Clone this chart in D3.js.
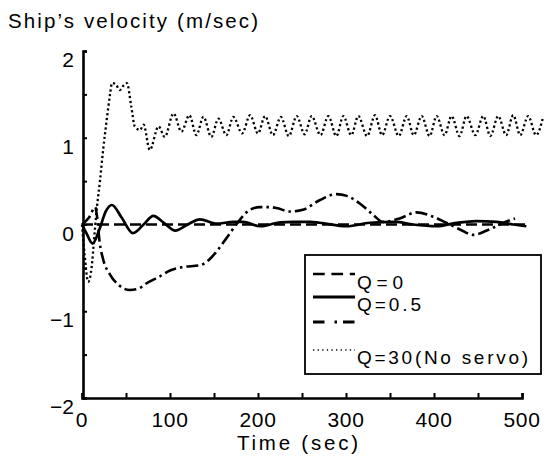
<!DOCTYPE html>
<html><head><meta charset="utf-8">
<script src="https://cdn.jsdelivr.net/npm/d3@7/dist/d3.min.js"></script>
<style>
body{margin:0;background:#fff;}
text{font-family:"Liberation Sans",Arial,sans-serif;fill:#000;}
</style></head>
<body>
<svg id="chart" width="545" height="468"></svg>
<script>
// ---- data ----
const xTickValues = [0, 50, 100, 150, 200, 250, 300, 350, 400, 450, 500];
const xTickLabels = [0, 100, 200, 300, 400, 500];
const yTickValues = [-2, -1.5, -1, -0.5, 0, 0.5, 1, 1.5, 2];
const yTickLabels = [-2, -1, 0, 1, 2];
const legendLabels = ["Q=0", "Q=0.5", "", "Q=30(No servo)"];

const q0Time = [0, 100, 200, 300, 400, 505];
const q0Vel  = [0, 0, 0, 0, 0, 0];

const q05Time = [0, 5, 12, 20, 27, 34, 45, 58, 70, 81, 93, 106, 120, 134, 153, 172, 183, 202, 214, 225, 240, 259, 270, 301, 327, 356, 376, 403, 426, 448, 471, 490, 505];
const q05Vel  = [0, -0.1, -0.22, -0.05, 0.15, 0.225, 0.08, -0.1, 0.0, 0.1, 0.02, -0.07, 0.0, 0.06, 0.01, 0.03, 0.03, -0.02, 0.0, 0.025, 0.03, 0.03, 0.02, -0.02, 0.02, 0.03, 0.0, -0.02, 0.02, 0.04, 0.03, 0.0, -0.02];

const dashDotTime = [0, 8, 15, 17, 20, 24, 32, 42, 54, 64, 73, 88, 100, 115, 134, 145, 153, 164, 176, 191, 202, 214, 221, 236, 251, 270, 289, 301, 316, 331, 342, 361, 380, 399, 414, 430, 445, 460, 479, 492];
const dashDotVel  = [0, 0.08, 0.2, 0.1, -0.2, -0.4, -0.58, -0.7, -0.755, -0.74, -0.68, -0.6, -0.53, -0.49, -0.47, -0.4, -0.31, -0.16, 0.01, 0.17, 0.2, 0.2, 0.19, 0.15, 0.17, 0.28, 0.35, 0.33, 0.24, 0.11, 0.03, 0.07, 0.14, 0.09, 0.02, -0.06, -0.12, -0.07, 0.02, 0.07];

const q30Time = [0, 3, 7, 11, 13, 15, 17, 20.5, 24, 28, 32, 34, 38, 43, 47, 51, 56, 60, 66, 70, 77, 87, 94, 104, 113, 122, 130, 138, 147, 155, 164, 172, 182, 191, 200, 208, 217, 226, 235, 244, 253, 261, 271, 280, 289, 297, 306, 314, 324, 333, 341, 350, 360, 369, 377, 386, 395, 403, 412, 420, 429, 437, 447, 456, 464, 473, 482, 490, 498, 507, 516, 524];
const q30Vel  = [0, -0.35, -0.66, -0.49, -0.26, -0.02, 0.2, 0.51, 0.86, 1.2, 1.51, 1.63, 1.62, 1.55, 1.6, 1.63, 1.36, 1.13, 1.09, 1.15, 0.86, 1.13, 1.01, 1.28, 1.07, 1.26, 1.03, 1.24, 1.01, 1.22, 1.03, 1.24, 1.05, 1.26, 1.05, 1.25, 1.03, 1.24, 1.02, 1.25, 1.04, 1.25, 1.03, 1.25, 1.02, 1.25, 1.03, 1.25, 1.02, 1.26, 1.03, 1.25, 1.02, 1.25, 1.03, 1.25, 1.02, 1.25, 1.03, 1.25, 1.02, 1.25, 1.03, 1.25, 1.02, 1.25, 1.03, 1.26, 1.03, 1.25, 1.03, 1.24];

// ---- chart ----
const svg = d3.select("#chart");
const x = d3.scaleLinear().domain([0, 500]).range([82, 522]);
const y = d3.scaleLinear().domain([-2, 2]).range([398, 51]);

const series = [
  {t: q0Time, v: q0Vel, dash: "11,5", w: 2.6},
  {t: q05Time, v: q05Vel, dash: null, w: 2.7},
  {t: dashDotTime, v: dashDotVel, dash: "12,4,2.5,4", w: 2.6},
  {t: q30Time, v: q30Vel, dash: "2.2,2.6", w: 2.3}
];

const line = d3.line().x(d => x(d[0])).y(d => y(d[1])).curve(d3.curveMonotoneX);

series.forEach(s => {
  const pts = s.t.map((t, i) => [t, s.v[i]]);
  svg.append("path").datum(pts)
    .attr("d", line)
    .attr("fill", "none")
    .attr("stroke", "#000")
    .attr("stroke-width", s.w)
    .attr("stroke-dasharray", s.dash)
    .attr("stroke-linejoin", "round");
});

// axes
const yAxis = d3.axisLeft(y).tickValues(yTickValues).tickSize(-4).tickSizeOuter(-4).tickFormat("");
const gy = svg.append("g").attr("transform", "translate(83,0)").call(yAxis);
gy.select(".domain").attr("stroke-width", 2.6);
gy.selectAll(".tick line").attr("stroke-width", 2);

const xAxis = d3.axisBottom(x).tickValues(xTickValues).tickSize(-5).tickSizeOuter(-5).tickFormat("");
const gx = svg.append("g").attr("transform", "translate(0,398)").call(xAxis);
gx.select(".domain").attr("stroke-width", 2.6);
gx.selectAll(".tick line").attr("stroke-width", 2);

// tick labels
svg.append("g").selectAll("text").data(xTickLabels).join("text")
  .attr("x", d => x(d))
  .attr("y", 427)
  .attr("text-anchor", "middle")
  .attr("font-size", 21)
  .attr("letter-spacing", 0.6)
  .text(d => d);

svg.append("g").selectAll("text").data(yTickLabels).join("text")
  .attr("x", 74)
  .attr("y", d => y(d) + 16)
  .attr("text-anchor", "end")
  .attr("font-size", 21)
  .text(d => d < 0 ? "\u2212" + Math.abs(d) : d);

// titles
svg.append("text").attr("x", 8).attr("y", 28).attr("font-size", 20.5)
  .attr("textLength", 250).attr("lengthAdjust", "spacing")
  .text("Ship\u2019s velocity (m/sec)");
svg.append("text").attr("x", 237).attr("y", 450).attr("font-size", 20.5)
  .attr("textLength", 121).attr("lengthAdjust", "spacing")
  .text("Time (sec)");

// legend
const lg = svg.append("g");
lg.append("rect").attr("x", 305).attr("y", 255).attr("width", 236).attr("height", 119)
  .attr("fill", "#fff").attr("stroke", "#000").attr("stroke-width", 1.8);
const legendStyle = [
  {y: 274, dash: "11.7,6.7", w: 2.6, ty: 289, tl: 46},
  {y: 297, dash: null, w: 3, ty: 311, tl: 64},
  {y: 322, dash: "11.5,10,2.5,6", w: 2.8, ty: 0, tl: 0},
  {y: 350, dash: "1.3,3.3", w: 1.3, ty: 364, tl: 171}
];
legendLabels.forEach((lab, i) => {
  const st = legendStyle[i];
  lg.append("line").attr("x1", 313).attr("x2", 355).attr("y1", st.y).attr("y2", st.y)
    .attr("stroke", "#000").attr("stroke-width", st.w).attr("stroke-dasharray", st.dash);
  if (lab) {
    lg.append("text").attr("x", 357).attr("y", st.ty).attr("font-size", 19)
      .attr("textLength", st.tl).attr("lengthAdjust", "spacing").text(lab);
  }
});
</script>
</body></html>
